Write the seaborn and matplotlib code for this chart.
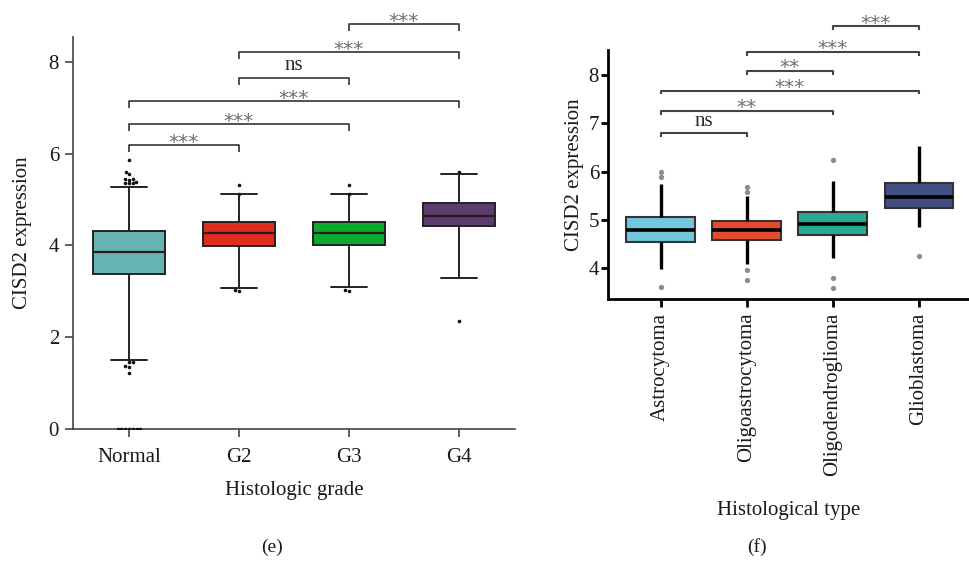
import matplotlib
matplotlib.use("Agg")
import matplotlib.pyplot as plt
import numpy as np
import pandas as pd
import seaborn as sns

# ---- Panel (e): CISD2 expression by histologic grade ----
grades = ["Normal", "G2", "G3", "G4"]
grade_whislo = [1.50, 3.07, 3.10, 3.28]
grade_q1 = [3.38, 3.98, 4.00, 4.43]
grade_med = [3.86, 4.26, 4.27, 4.64]
grade_q3 = [4.31, 4.51, 4.51, 4.92]
grade_whishi = [5.27, 5.11, 5.11, 5.56]
normal_outliers = [5.86, 5.61, 5.56, 5.45, 5.44, 5.43, 5.38, 5.37, 5.36, 5.35,
                   1.46, 1.45, 1.38, 1.36, 1.22, 0, 0, 0, 0, 0, 0, 0]
g2_outliers = [5.32, 5.13, 3.02, 3.00]
g3_outliers = [5.32, 5.13, 3.03, 3.00]
g4_outliers = [5.61, 2.35]
grade_colors = ["#66B5B3", "#DE2D1F", "#0AAA2E", "#5A3C6E"]

grade_cmp_a = [0, 0, 0, 1, 1, 2]
grade_cmp_b = [1, 2, 3, 2, 3, 3]
grade_cmp_y = [6.19, 6.64, 7.15, 7.65, 8.21, 8.82]
grade_cmp_text = ["***", "***", "***", "ns", "***", "***"]

# ---- Panel (f): CISD2 expression by histological type ----
types = ["Astrocytoma", "Oligoastrocytoma", "Oligodendroglioma", "Glioblastoma"]
type_whislo = [3.98, 4.08, 4.20, 4.85]
type_q1 = [4.54, 4.59, 4.68, 5.25]
type_med = [4.79, 4.79, 4.92, 5.48]
type_q3 = [5.05, 4.98, 5.17, 5.77]
type_whishi = [5.74, 5.49, 5.80, 6.53]
astro_outliers = [5.99, 5.89, 3.61]
oligoastro_outliers = [5.68, 5.57, 3.97, 3.76]
oligodendro_outliers = [6.25, 3.79, 3.59]
glio_outliers = [4.25]
type_colors = ["#73C7DD", "#E34A2E", "#2AAA8E", "#414F82"]

type_cmp_a = [0, 0, 0, 1, 1, 2]
type_cmp_b = [1, 2, 3, 2, 3, 3]
type_cmp_y = [6.80, 7.26, 7.68, 8.09, 8.48, 9.01]
type_cmp_text = ["ns", "**", "***", "**", "***", "***"]


def five_number_frame(names, lo, q1, med, q3, hi):
    """Five points per group whose 0/25/50/75/100 percentiles are the box stats."""
    rows = []
    for i, n in enumerate(names):
        for v in (lo[i], q1[i], med[i], q3[i], hi[i]):
            rows.append((n, v))
    return pd.DataFrame(rows, columns=["group", "value"])


def outlier_frame(names, groups):
    rows = [(n, v) for n, vals in zip(names, groups) for v in vals]
    return pd.DataFrame(rows, columns=["group", "value"])


def bracket(ax, a, b, y, text, h, off_sym, off_ns, lw, color):
    ax.plot([a, a, b, b], [y - h, y, y, y - h], color=color, lw=lw,
            clip_on=False, solid_capstyle="butt")
    if text == "ns":
        ax.annotate(text, xy=((a + b) / 2, y), xytext=(0, off_ns),
                    textcoords="offset points", ha="center", va="baseline",
                    fontsize=15, color="#2a2a2a", annotation_clip=False)
    else:
        ax.annotate(text, xy=((a + b) / 2, y), xytext=(0, off_sym),
                    textcoords="offset points", ha="center", va="baseline",
                    fontsize=14.5, color="#6e6e6e", family=["DejaVu Sans"],
                    annotation_clip=False)


sns.set_theme(style="white")
plt.rcParams["font.family"] = ["Liberation Serif", "DejaVu Serif"]
plt.rcParams["axes.unicode_minus"] = False

fig = plt.figure(figsize=(9.69, 5.67), dpi=100)

# ------------------------- left panel -------------------------
axL = fig.add_axes([0.0753, 0.2434, 0.4562, 0.6913])
dfL = five_number_frame(grades, grade_whislo, grade_q1, grade_med, grade_q3, grade_whishi)
sns.boxplot(data=dfL, x="group", y="value", hue="group", order=grades, hue_order=grades,
            palette=grade_colors, saturation=1, width=0.66, whis=(0, 100),
            showfliers=False, linecolor="#222222", linewidth=1.4, legend=False,
            medianprops=dict(color="#2a1a1a", linewidth=1.6),
            ax=axL)
outL = outlier_frame(grades, [normal_outliers, g2_outliers, g3_outliers, g4_outliers])
sns.swarmplot(data=outL, x="group", y="value", order=grades, color="#111111",
              size=2.6, ax=axL, zorder=5, warn_thresh=1)
axL.set_xlim(-0.51, 3.51)
axL.set_ylim(0, 8.54)
axL.set_yticks([0, 2, 4, 6, 8])
for s in ("top", "right"):
    axL.spines[s].set_visible(False)
for s in ("left", "bottom"):
    axL.spines[s].set_color("#444444")
    axL.spines[s].set_linewidth(1.2)
axL.tick_params(axis="both", which="both", direction="out", length=6, width=1.2,
                color="#444444", labelsize=15, labelcolor="#1a1a1a", pad=4,
                left=True, bottom=True)
axL.tick_params(axis="x", pad=8)
axL.set_xlabel("Histologic grade", fontsize=15, color="#1a1a1a", labelpad=10)
axL.set_ylabel("CISD2 expression", fontsize=15, color="#1a1a1a", labelpad=12)
for a, b, y, t in zip(grade_cmp_a, grade_cmp_b, grade_cmp_y, grade_cmp_text):
    bracket(axL, a, b, y, t, h=0.15, off_sym=-2.2, off_ns=5.8, lw=1.2,
            color="#333333")

# ------------------------- right panel ------------------------
axR = fig.add_axes([0.6275, 0.4727, 0.3725, 0.4391])
dfR = five_number_frame(types, type_whislo, type_q1, type_med, type_q3, type_whishi)
sns.boxplot(data=dfR, x="group", y="value", hue="group", order=types, hue_order=types,
            palette=type_colors, saturation=1, width=0.8, whis=(0, 100),
            showfliers=False, linecolor="#333333", linewidth=1.5, legend=False,
            medianprops=dict(color="black", linewidth=2.6),
            whiskerprops=dict(color="black", linewidth=2.4),
            capprops=dict(visible=False),
            ax=axR)
outR = outlier_frame(types, [astro_outliers, oligoastro_outliers,
                             oligodendro_outliers, glio_outliers])
sns.stripplot(data=outR, x="group", y="value", order=types, jitter=False,
              color="#8c8c8c", size=3.8, linewidth=0, ax=axR, zorder=5)
axR.set_xlim(-0.61, 3.58)
axR.set_ylim(3.36, 8.52)
axR.set_yticks([4, 5, 6, 7, 8])
for s in ("top", "right"):
    axR.spines[s].set_visible(False)
for s in ("left", "bottom"):
    axR.spines[s].set_color("black")
    axR.spines[s].set_linewidth(2.0)
axR.tick_params(axis="both", which="both", direction="out", length=5, width=2,
                color="black", labelsize=15, labelcolor="#1a1a1a", pad=1.5,
                left=True, bottom=True)
axR.tick_params(axis="x", labelrotation=90, pad=4, length=6)
axR.set_xlabel("Histological type", fontsize=15, color="#1a1a1a", labelpad=18)
axR.set_ylabel("CISD2 expression", fontsize=15, color="#1a1a1a", labelpad=3)
for a, b, y, t in zip(type_cmp_a, type_cmp_b, type_cmp_y, type_cmp_text):
    bracket(axR, a, b, y, t, h=0.08, off_sym=-1.6, off_ns=4.9, lw=1.5,
            color="#444444")

fig.text(272 / 969, 1 - 547 / 567, "(e)", ha="center", va="center",
         fontsize=14, color="#1a1a1a")
fig.text(757 / 969, 1 - 547 / 567, "(f)", ha="center", va="center",
         fontsize=14, color="#1a1a1a")

fig.savefig("out.png", dpi=100)
